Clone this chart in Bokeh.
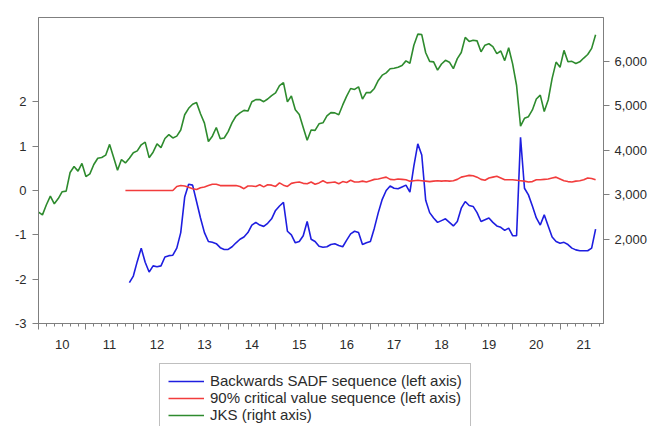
import pandas as pd
from bokeh.plotting import figure
from bokeh.layouts import column
from bokeh.models import (Range1d, LinearAxis, FixedTicker, Legend, LegendItem,
                          NumeralTickFormatter)
from bokeh.embed import file_html
from bokeh.resources import INLINE

# ---------------- data (monthly) ----------------
jks_start = "2010-01"
jks = [2610, 2549, 2777, 2971, 2797, 2914, 3069, 3082, 3501, 3635, 3531, 3704,
       3409, 3470, 3679, 3819, 3837, 3889, 4131, 3842, 3549, 3791, 3715, 3822,
       3942, 3985, 4122, 4181, 3833, 3956, 4142, 4060, 4263, 4350, 4276, 4317,
       4454, 4796, 4941, 5034, 5069, 4819, 4610, 4196, 4316, 4511, 4256, 4274,
       4419, 4620, 4768, 4840, 4894, 4879, 5089, 5137, 5138, 5090, 5150, 5227,
       5289, 5450, 5519, 5086, 5216, 4911, 4803, 4510, 4224, 4455, 4446, 4593,
       4615, 4771, 4845, 4839, 4797, 5017, 5216, 5386, 5365, 5423, 5149, 5297,
       5294, 5387, 5568, 5685, 5738, 5830, 5841, 5864, 5901, 6006, 5952, 6356,
       6606, 6597, 6189, 5995, 5984, 5799, 5936, 6018, 5977, 5832, 6056, 6194,
       6533, 6443, 6469, 6455, 6209, 6359, 6391, 6328, 6169, 6228, 6012, 6300,
       5940, 5453, 4539, 4716, 4754, 4905, 5149, 5238, 4870, 5128, 5612, 5979,
       5862, 6242, 5986, 5996, 5947, 5985, 6070, 6150, 6287, 6591]

sadf_start = "2011-12"
sadf = [-2.08, -1.93, -1.60, -1.30, -1.62, -1.84, -1.70, -1.72, -1.70, -1.50, -1.47, -1.46,
        -1.30, -0.95, -0.15, 0.14, 0.12, -0.25, -0.62, -0.95, -1.15, -1.17, -1.20, -1.29,
        -1.33, -1.33, -1.27, -1.18, -1.10, -1.05, -0.95, -0.78, -0.72, -0.78, -0.81, -0.74,
        -0.64, -0.45, -0.35, -0.27, -0.92, -1.00, -1.18, -1.15, -1.02, -0.70, -1.10, -1.15,
        -1.26, -1.28, -1.27, -1.22, -1.20, -1.24, -1.27, -1.12, -0.98, -0.92, -0.95, -1.22,
        -1.18, -1.15, -0.85, -0.50, -0.20, 0.00, 0.10, 0.05, 0.04, 0.08, 0.12, -0.04,
        0.55, 1.05, 0.80, -0.22, -0.50, -0.62, -0.72, -0.68, -0.64, -0.72, -0.80, -0.70,
        -0.40, -0.25, -0.34, -0.36, -0.50, -0.70, -0.66, -0.62, -0.72, -0.80, -0.83, -0.90,
        -0.85, -1.02, -1.02, 1.20, 0.05, -0.10, -0.35, -0.62, -0.78, -0.55, -0.80, -1.05,
        -1.15, -1.19, -1.17, -1.22, -1.30, -1.34, -1.36, -1.36, -1.36, -1.30, -0.87]

cv_start = "2011-11"
cv = [0.00, 0.00, 0.00, 0.00, 0.00, 0.00, 0.00, 0.00, 0.00, 0.00, 0.00, 0.00, 0.00,
      0.09, 0.11, 0.10, 0.07, 0.04, 0.02, 0.06, 0.08, 0.11, 0.14, 0.14, 0.11,
      0.11, 0.11, 0.11, 0.11, 0.09, 0.04, 0.10, 0.10, 0.09, 0.13, 0.08, 0.13,
      0.12, 0.09, 0.17, 0.12, 0.09, 0.16, 0.18, 0.19, 0.16, 0.15, 0.19, 0.14,
      0.17, 0.22, 0.17, 0.18, 0.19, 0.15, 0.20, 0.18, 0.23, 0.19, 0.19, 0.21,
      0.19, 0.22, 0.25, 0.26, 0.28, 0.30, 0.25, 0.24, 0.26, 0.25, 0.24, 0.21,
      0.22, 0.23, 0.22, 0.21, 0.20, 0.21, 0.22, 0.21, 0.22, 0.21, 0.22, 0.25,
      0.30, 0.32, 0.34, 0.33, 0.30, 0.25, 0.23, 0.28, 0.30, 0.32, 0.28, 0.24,
      0.24, 0.24, 0.23, 0.22, 0.21, 0.19, 0.20, 0.24, 0.24, 0.25, 0.26, 0.28,
      0.30, 0.26, 0.22, 0.20, 0.19, 0.21, 0.22, 0.24, 0.28, 0.27, 0.24]

years = list(range(2010, 2022))
year_labels = ["10", "11", "12", "13", "14", "15", "16", "17", "18", "19", "20", "21"]
left_ticks = [-3, -2, -1, 0, 1, 2]
left_labels = ["-3", "-2", "-1", "0", "1", "2"]
right_ticks = [2000, 3000, 4000, 5000, 6000, 7000]
legend_labels = ["Backwards SADF sequence (left axis)",
                 "90% critical value sequence (left axis)",
                 "JKS (right axis)"]
colors = ["#1e1ee0", "#f23c3c", "#2e8b2e"]


def dec_year(start, n):
    per = pd.period_range(start=start, periods=n, freq="M")
    return list(per.year + (per.month - 1) / 12.0)


FONT = "Liberation Sans"
AX_COL = "#7f7f7f"
TXT_COL = "#2b2b2b"

x_end = years[-1] + 11 / 12.0
p = figure(width=654, height=360, output_backend="svg", toolbar_location=None,
           x_range=Range1d(years[0], x_end), y_range=Range1d(-3, 3.90),
           x_axis_location=None, y_axis_location=None,
           min_border_left=38, min_border_right=51, min_border_top=17, min_border_bottom=37)
p.extra_y_ranges = {"jks": Range1d(110, 6980)}
p.grid.visible = False
p.outline_line_color = AX_COL
p.background_fill_color = "white"
p.border_fill_color = "white"


def style_axis(ax):
    ax.axis_line_color = AX_COL
    ax.major_tick_line_color = AX_COL
    ax.minor_tick_line_color = AX_COL
    ax.major_label_text_font = FONT
    ax.major_label_text_font_size = "13px"
    ax.major_label_text_color = TXT_COL


left = LinearAxis(ticker=FixedTicker(ticks=left_ticks))
style_axis(left)
left.major_tick_out = 6
left.major_tick_in = 0
left.minor_tick_out = 0
left.major_label_standoff = 6
left.major_label_overrides = {t: s for t, s in zip(left_ticks, left_labels)}
p.add_layout(left, "left")

right = LinearAxis(y_range_name="jks", ticker=FixedTicker(ticks=right_ticks),
                   formatter=NumeralTickFormatter(format="0,0"))
style_axis(right)
right.major_tick_out = 6
right.major_tick_in = 0
right.minor_tick_out = 0
right.major_label_standoff = 5
p.add_layout(right, "right")

# bottom axis: year boundaries (major) with bimonthly minor ticks
minor = [y + k / 6.0 for y in years for k in range(6)]
xa = LinearAxis(ticker=FixedTicker(ticks=years, minor_ticks=minor))
style_axis(xa)
xa.major_tick_out = 6
xa.major_tick_in = 0
xa.minor_tick_out = 3
xa.minor_tick_in = 0
xa.major_label_overrides = {y: "" for y in years}
xa.major_label_text_font_size = "1px"
xa.major_label_standoff = 0
p.add_layout(xa, "below")

# year labels centred on each year
centers = [y + 0.5 for y in years]
xb = LinearAxis(ticker=FixedTicker(ticks=centers))
style_axis(xb)
xb.axis_line_color = None
xb.major_tick_line_color = None
xb.minor_tick_line_color = None
xb.major_tick_out = 0
xb.major_tick_in = 0
xb.minor_tick_out = 0
xb.major_label_standoff = 10
xb.major_label_overrides = {c: lab for c, lab in zip(centers, year_labels)}
p.add_layout(xb, "below")

series = [(sadf_start, sadf, None), (cv_start, cv, None), (jks_start, jks, "jks")]
for (st, vals, rng), col in zip(series, colors):
    kw = {"y_range_name": rng} if rng else {}
    p.line(dec_year(st, len(vals)), vals, line_color=col, line_width=1.6, **kw)

# ---------------- legend strip below the chart ----------------
q = figure(width=654, height=66, output_backend="svg", toolbar_location=None,
           x_range=Range1d(0, 1), y_range=Range1d(0, 1),
           x_axis_location=None, y_axis_location=None,
           min_border_left=38, min_border_right=51, min_border_top=0, min_border_bottom=0)
q.grid.visible = False
q.outline_line_color = None
q.border_fill_color = "white"
q.background_fill_color = "white"
items = []
for (st, vals, rng), lab, col in zip(series, legend_labels, colors):
    # same series, lying outside this strip's ranges: only their legend samples show
    rr = q.line(dec_year(st, len(vals)), vals, line_color=col, line_width=1.6)
    items.append(LegendItem(label=lab, renderers=[rr]))

legend = Legend(items=items, location=(121, -6), orientation="vertical")
legend.border_line_color = AX_COL
legend.border_line_width = 1
legend.background_fill_color = "white"
legend.background_fill_alpha = 1
legend.label_text_font = FONT
legend.label_text_font_size = "15px"
legend.label_text_color = TXT_COL
legend.glyph_width = 36
legend.glyph_height = 12
legend.label_height = 12
legend.label_standoff = 6
legend.spacing = 0
legend.padding = 8
legend.margin = 0
q.add_layout(legend, "center")

layout = column(p, q, spacing=0)
open("out.html", "w").write(file_html(layout, INLINE))
